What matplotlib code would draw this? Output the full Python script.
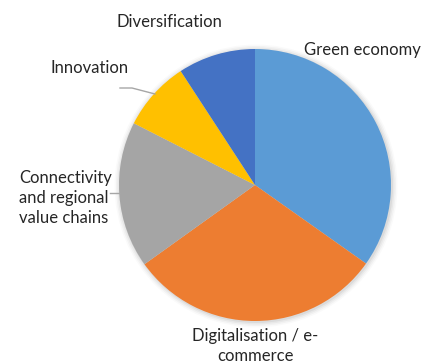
import matplotlib
matplotlib.use("Agg")
import matplotlib.pyplot as plt
from matplotlib.patches import Circle

categories = ["Green economy", "Digitalisation / e-\ncommerce",
              "Connectivity\nand regional\nvalue chains", "Innovation", "Diversification"]
values = [34.8, 30.3, 17.4, 8.3, 9.2]
colors = ["#5B9BD5", "#ED7D31", "#A5A5A5", "#FFC000", "#4472C4"]

W, H = 424, 362
fig = plt.figure(figsize=(W / 100, H / 100), dpi=100)
ax = fig.add_axes([0, 0, 1, 1])
ax.set_xlim(0, W)
ax.set_ylim(0, H)
ax.set_aspect("equal")
ax.axis("off")

cx, cy, r = 255, H - 185, 136

# soft shadow
for i, a in enumerate([0.05, 0.04, 0.03, 0.02]):
    ax.add_patch(Circle((cx + 1, cy - 1), r + 1 + i * 1.5, color="black", alpha=a, lw=0, zorder=0))

ax.pie(values, colors=colors, startangle=90, counterclock=False,
       center=(cx, cy), radius=r, wedgeprops=dict(linewidth=0), frame=True)
ax.set_xlim(0, W)
ax.set_ylim(0, H)
ax.axis("off")

fkw = dict(fontsize=12, color="#262626", family=["Lato", "DejaVu Sans"])
ax.text(169, H - 22, "Diversification", ha="center", va="center", **fkw)
ax.text(304, H - 50, "Green economy", ha="left", va="center", **fkw)
ax.text(50, H - 68, "Innovation", ha="left", va="center", **fkw)
ax.text(19, H - 198, "Connectivity\nand regional\nvalue chains", ha="left", va="center",
        linespacing=1.3, **fkw)
ax.text(255, H - 346, "Digitalisation / e-\ncommerce", ha="center", va="center",
        linespacing=1.3, **fkw)

# leader lines
ax.plot([120, 132, 155], [H - 88, H - 88, H - 94], color="#A6A6A6", lw=1, zorder=3)
ax.plot([110, 120], [H - 193, H - 193], color="#A6A6A6", lw=1, zorder=3)

fig.savefig("out.png", dpi=100)
